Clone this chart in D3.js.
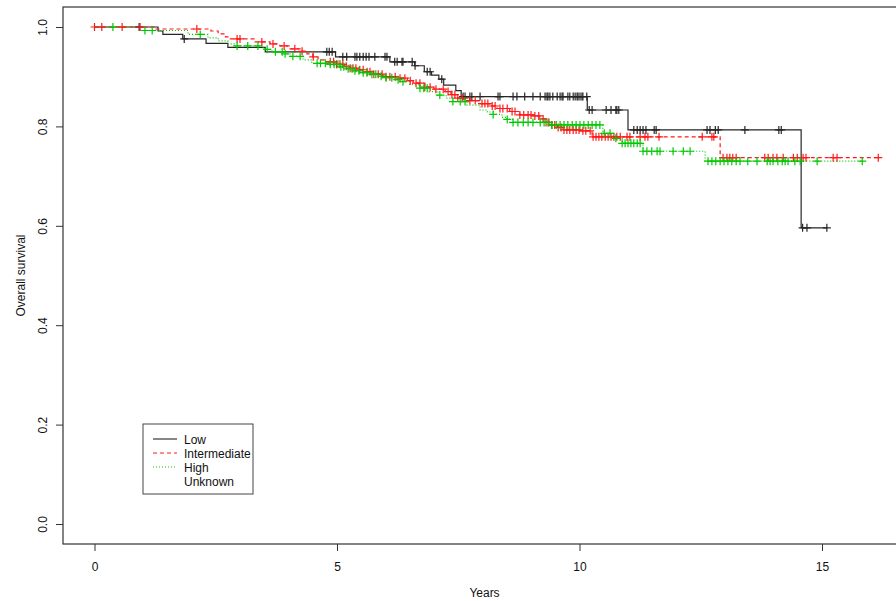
<!DOCTYPE html>
<html>
<head>
<meta charset="utf-8">
<script src="https://cdn.jsdelivr.net/npm/d3@7"></script>
<style>
  html, body { margin: 0; padding: 0; background: #fff; }
  svg { display: block; }
  text { font-family: "Liberation Sans", Arial, sans-serif; fill: #111; }
</style>
</head>
<body>
<svg id="chart" width="896" height="601"></svg>
<script>
// ---------------- DATA ----------------
const groups = ["Low", "Intermediate", "High", "Unknown"];
const xTicks = [0, 5, 10, 15];
const yTicks = [0.0, 0.2, 0.4, 0.6, 0.8, 1.0];
const yTickLabels = ["0.0", "0.2", "0.4", "0.6", "0.8", "1.0"];
const xTitle = "Years";
const yTitle = "Overall survival";

// Low (black, solid): step times and survival after each step
const lowTimes = [0, 1.31, 1.41, 1.82, 2.30, 2.75, 3.52, 4.97, 6.09, 6.60, 6.80, 6.95, 7.10, 7.20, 7.45, 7.56, 10.16, 11.00, 14.57];
const lowSurv  = [1.0, 0.992, 0.985, 0.976, 0.967, 0.959, 0.950, 0.940, 0.930, 0.922, 0.910, 0.903, 0.895, 0.883, 0.872, 0.860, 0.833, 0.793, 0.596];
const lowEnd = 15.10;
const lowCensor = [0.92, 1.85, 4.79, 4.84, 4.90, 5.12, 5.20, 5.37, 5.41, 5.47, 5.54, 5.60, 5.66, 5.78, 5.99, 6.03,
  6.19, 6.24, 6.34, 6.36, 6.55, 6.61, 6.86, 6.92, 7.16, 7.60, 7.64, 7.74, 7.78, 7.95, 8.32, 8.36, 8.63, 8.71, 8.87,
  9.04, 9.19, 9.29, 9.33, 9.35, 9.39, 9.45, 9.54, 9.60, 9.64, 9.66, 9.76, 9.80, 9.87, 9.91, 9.95, 9.97, 10.01, 10.05,
  10.07, 10.15, 10.20, 10.26, 10.55, 10.65, 10.75, 10.77, 10.81, 11.12, 11.19, 11.25, 11.31, 11.37, 11.54, 11.58,
  12.63, 12.69, 12.80, 12.86, 13.41, 14.11, 14.16, 14.60, 14.69, 15.10];

// Intermediate (red, dashed)
const midTimes = [0, 1.25, 2.40, 2.55, 2.70, 2.80, 3.31, 3.62, 3.82, 4.03, 4.24, 4.38, 4.50, 4.61, 4.75, 4.96, 5.15,
  5.27, 5.45, 5.58, 5.75, 5.95, 6.30, 6.45, 6.57, 6.81, 7.00, 7.23, 7.35, 7.49, 7.74, 7.95, 8.15, 8.30, 8.56, 8.77,
  9.04, 9.18, 9.29, 9.40, 9.55, 9.66, 10.01, 10.26, 12.90];
const midSurv  = [1.0, 0.996, 0.992, 0.986, 0.980, 0.976, 0.970, 0.966, 0.962, 0.956, 0.951, 0.946, 0.940, 0.934,
  0.930, 0.925, 0.921, 0.917, 0.914, 0.910, 0.905, 0.900, 0.897, 0.892, 0.887, 0.879, 0.875, 0.870, 0.864, 0.857,
  0.852, 0.846, 0.841, 0.836, 0.830, 0.823, 0.821, 0.815, 0.808, 0.803, 0.798, 0.793, 0.791, 0.779, 0.737];
const midEnd = 16.16;
const midCensor = [0.0, 0.15, 0.57, 0.94, 2.11, 2.94, 3.00, 3.45, 3.68, 3.91, 4.13, 4.28, 4.51,
  4.86, 4.93, 4.99, 5.06, 5.12, 5.19, 5.27, 5.33, 5.39, 5.47, 5.54, 5.62, 5.68, 5.76, 5.85, 5.93, 6.01, 6.09, 6.20,
  6.30, 6.40, 6.51, 6.63, 6.71, 6.81, 6.92, 7.04, 7.19, 7.29, 7.37, 7.43, 7.49, 7.58, 7.74, 7.85, 7.99, 8.05, 8.11,
  8.20, 8.26, 8.36, 8.42, 8.51, 8.61, 8.67, 8.77, 8.85, 8.94, 9.00, 9.08, 9.16, 9.25, 9.31, 9.37, 9.43, 9.49, 9.56,
  9.62, 9.68, 9.74, 9.80, 9.87, 9.93, 9.99, 10.07, 10.13, 10.22,
  10.28, 10.34, 10.40, 10.46, 10.53, 10.59, 10.65, 10.71, 10.77, 10.84, 10.98, 11.04, 11.25, 11.35, 11.41, 11.64,
  12.53, 12.73, 12.77, 12.96, 13.04, 13.10, 13.16, 13.23, 13.82, 13.89, 13.99, 14.07, 14.20, 14.41, 14.49, 14.61,
  14.67, 15.23, 15.31, 16.16];

// High (green, dotted)
const highTimes = [0, 0.94, 1.93, 2.34, 2.55, 2.75, 2.90, 3.45, 3.52, 3.66, 3.93, 4.03, 4.30, 4.48, 4.86, 5.06, 5.20,
  5.37, 5.52, 5.68, 5.85, 5.99, 6.15, 6.30, 6.50, 6.71, 6.90, 7.08, 7.25, 7.39, 7.68, 7.95, 8.10, 8.22, 8.40, 8.51,
  8.63, 9.39, 10.48, 10.69, 10.88, 11.31, 12.59];
const highSurv  = [1.0, 0.993, 0.985, 0.978, 0.972, 0.966, 0.962, 0.958, 0.955, 0.950, 0.946, 0.941, 0.934, 0.927,
  0.925, 0.920, 0.916, 0.912, 0.908, 0.905, 0.901, 0.898, 0.894, 0.890, 0.884, 0.877, 0.870, 0.863, 0.857, 0.850,
  0.843, 0.833, 0.829, 0.824, 0.818, 0.814, 0.808, 0.803, 0.786, 0.776, 0.766, 0.750, 0.730];
const highEnd = 15.83;
const highCensor = [0.38, 1.04, 1.19, 2.18, 2.94, 3.16, 3.37, 3.56, 3.73, 3.87, 3.93, 4.09, 4.24, 4.59, 4.66, 4.76,
  4.86, 4.94, 5.02, 5.08, 5.14, 5.23, 5.31, 5.37, 5.45, 5.54, 5.62, 5.72, 5.80, 5.91, 6.01, 6.13, 6.26, 6.36, 6.71,
  6.79, 6.86, 7.12, 7.39, 7.54, 7.64, 8.22, 8.51, 8.63, 8.73, 8.84, 8.94, 9.04, 9.19, 9.27, 9.35, 9.43, 9.52, 9.60,
  9.68, 9.76, 9.85, 9.93, 10.01, 10.09, 10.18, 10.26, 10.34, 10.42, 10.51, 10.63, 10.75, 10.88, 10.94, 11.00,
  11.06, 11.12, 11.19, 11.25, 11.31, 11.39, 11.49, 11.60, 11.66, 11.93, 12.14, 12.28, 12.65, 12.73, 12.81, 12.90,
  12.98, 13.06, 13.14, 13.23, 13.31, 13.47, 13.66, 13.87, 13.93, 13.99, 14.09, 14.18, 14.24, 14.30, 14.44, 14.55,
  14.90, 15.83];

// ---------------- LAYOUT ----------------
const frame = { left: 63, right: 912, top: 7, bottom: 544 };
const svg = d3.select("#chart");

const x = d3.scaleLinear().domain([0, 15]).range([94.5, 822]);
const y = d3.scaleLinear().domain([0, 1]).range([524, 27]);

const series = [
  { name: groups[0], times: lowTimes, surv: lowSurv, end: lowEnd, censor: lowCensor, color: "#262626", dash: null, width: 1.2 },
  { name: groups[1], times: midTimes, surv: midSurv, end: midEnd, censor: midCensor, color: "#ff1a1a", dash: "4,3", width: 1.2 },
  { name: groups[2], times: highTimes, surv: highSurv, end: highEnd, censor: highCensor, color: "#00c800", dash: "1,2", width: 1.2 }
];

// frame box
svg.append("rect")
  .attr("x", frame.left).attr("y", frame.top)
  .attr("width", frame.right - frame.left).attr("height", frame.bottom - frame.top)
  .attr("fill", "none").attr("stroke", "#333").attr("stroke-width", 1.2);

// x axis
const xAxis = svg.append("g")
  .attr("transform", `translate(0,${frame.bottom})`)
  .call(d3.axisBottom(x).tickValues(xTicks).tickSize(7).tickPadding(11).tickFormat(d3.format("d")));
xAxis.select(".domain").remove();
xAxis.selectAll(".tick line").attr("stroke", "#333");
xAxis.selectAll("text").style("font-size", "12px").style("font-family", "Liberation Sans, Arial, sans-serif").attr("fill", "#111");

// y axis
const yAxis = svg.append("g")
  .attr("transform", `translate(${frame.left},0)`)
  .call(d3.axisLeft(y).tickValues(yTicks).tickSize(7).tickFormat((d, i) => yTickLabels[i]));
yAxis.select(".domain").remove();
yAxis.selectAll(".tick line").attr("stroke", "#333");
yAxis.selectAll("text")
  .attr("x", null).attr("dy", null)
  .attr("text-anchor", "middle")
  .attr("transform", "translate(-16,0) rotate(-90)")
  .style("font-size", "12px").style("font-family", "Liberation Sans, Arial, sans-serif").attr("fill", "#111");

// titles
svg.append("text")
  .attr("x", (frame.left + 906) / 2).attr("y", 597)
  .attr("text-anchor", "middle").style("font-size", "12px")
  .text(xTitle);
svg.append("text")
  .attr("transform", `translate(25,${(frame.top + frame.bottom) / 2}) rotate(-90)`)
  .attr("text-anchor", "middle").style("font-size", "12px")
  .text(yTitle);

// curves
const stepLine = d3.line().x(d => x(d[0])).y(d => y(d[1])).curve(d3.curveStepAfter);

function survAt(s, t) {
  const i = d3.bisectRight(s.times, t) - 1;
  return s.surv[Math.max(0, i)];
}

const plot = svg.append("g");
series.forEach(s => {
  const pts = s.times.map((t, i) => [t, s.surv[i]]);
  pts.push([s.end, s.surv[s.surv.length - 1]]);
  plot.append("path")
    .datum(pts)
    .attr("d", stepLine)
    .attr("fill", "none")
    .attr("stroke", s.color)
    .attr("stroke-width", s.width)
    .attr("stroke-dasharray", s.dash);
});

series.forEach(s => {
  const h = 4;
  plot.append("g").selectAll("path")
    .data(s.censor)
    .join("path")
    .attr("d", t => {
      const cx = x(t), cy = y(survAt(s, t));
      return `M${cx - h},${cy}H${cx + h}M${cx},${cy - h}V${cy + h}`;
    })
    .attr("stroke", s.color)
    .attr("stroke-width", 1.2)
    .attr("fill", "none");
});

// legend
const legend = svg.append("g");
legend.append("rect")
  .attr("x", 143).attr("y", 424).attr("width", 110).attr("height", 70)
  .attr("fill", "#fff").attr("stroke", "#444").attr("stroke-width", 1);
const legendStyles = [
  { color: "#262626", dash: null },
  { color: "#ff1a1a", dash: "4,3" },
  { color: "#00c800", dash: "1,2" },
  { color: "none", dash: null }
];
groups.forEach((g, i) => {
  const cy = 439 + i * 14;
  if (legendStyles[i].color !== "none") {
    legend.append("line")
      .attr("x1", 153).attr("x2", 177).attr("y1", cy).attr("y2", cy)
      .attr("stroke", legendStyles[i].color).attr("stroke-width", 1.1)
      .attr("stroke-dasharray", legendStyles[i].dash);
  }
  legend.append("text")
    .attr("x", 184).attr("y", cy + 4.5)
    .style("font-size", "12px")
    .text(g);
});
</script>
</body>
</html>
